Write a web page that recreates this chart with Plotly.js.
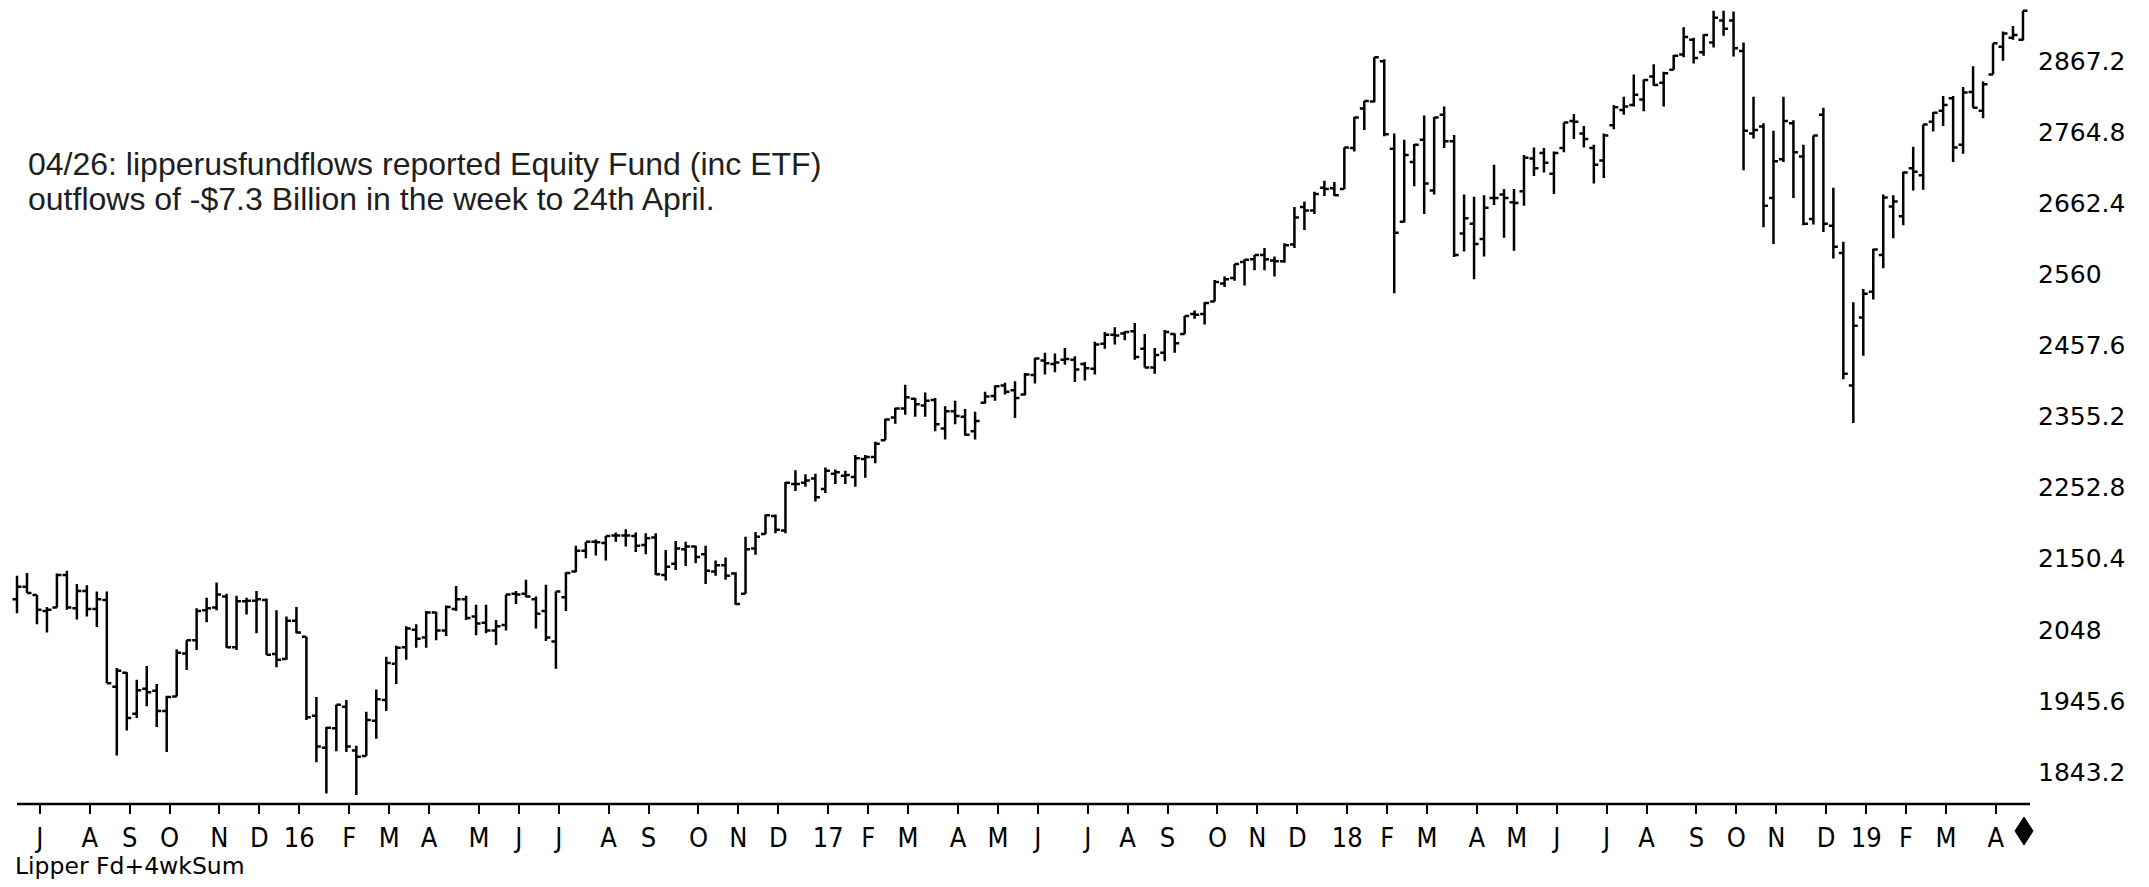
<!DOCTYPE html>
<html>
<head>
<meta charset="utf-8">
<script src="https://cdn.plot.ly/plotly-3.0.1.min.js"></script>
<style>
  html, body { margin: 0; padding: 0; background: #ffffff; }
  #chart { width: 2149px; height: 887px; }
</style>
</head>
<body>
<div id="chart"></div>
<script>
// ---- Data: weekly OHLC bars, week ending Friday, first bar = week ending 2015-06-19 ----
const FIRST_WEEK_END = '2015-06-19';

const open = [
2092,2110,2098,2075,2080,2127,2079,2104,2078,2091,
1966,1986,1927,1963,1960,1931,1952,2014,2033,2076,
2080,2096,2023,2089,2090,2091,2013,2006,2061,2038,
1924,1878,1906,1937,1874,1866,1917,1947,1999,2023,
2048,2037,2073,2047,2078,2092,2067,2058,2047,2055,
2100,2100,2092,2075,2031,2095,2132,2162,2175,2173,
2184,2184,2183,2170,2181,2127,2143,2164,2168,2157,
2132,2141,2129,2100,2165,2186,2212,2191,2258,2260,
2266,2251,2273,2270,2268,2294,2297,2321,2354,2367,
2381,2371,2379,2338,2363,2355,2334,2375,2385,2400,
2393,2387,2415,2436,2431,2437,2437,2431,2424,2460,
2473,2475,2478,2453,2426,2447,2474,2474,2503,2503,
2521,2547,2555,2578,2582,2588,2580,2579,2603,2657,
2652,2685,2684,2683,2742,2799,2809,2867,2741,2636,
2722,2754,2681,2790,2752,2619,2633,2611,2670,2675,
2664,2680,2727,2735,2705,2742,2781,2763,2742,2724,
2775,2797,2804,2812,2845,2836,2855,2877,2898,2880,
2894,2926,2926,2882,2763,2773,2670,2726,2778,2730,
2640,2790,2630,2591,2400,2498,2535,2588,2658,2644,
2713,2703,2780,2796,2814,2747,2823,2796,2848,2888,
2901,2898
];
const high = [
2126,2130,2098,2081,2129,2133,2114,2112,2103,2103,
1993,1987,1976,1996,1970,1953,2020,2033,2079,2094,
2116,2100,2097,2094,2104,2093,2076,2067,2081,2038,
1951,1908,1940,1947,1881,1930,1962,2009,2025,2053,
2056,2075,2074,2083,2111,2097,2084,2084,2062,2099,
2104,2120,2096,2113,2103,2131,2169,2175,2178,2183,
2188,2193,2188,2187,2187,2163,2176,2175,2169,2169,
2148,2152,2131,2182,2189,2214,2214,2261,2278,2272,
2273,2282,2279,2277,2300,2300,2319,2352,2368,2401,
2382,2390,2382,2370,2378,2366,2362,2391,2400,2404,
2406,2418,2440,2447,2446,2454,2442,2434,2463,2477,
2484,2478,2490,2474,2454,2480,2475,2500,2508,2520,
2552,2557,2575,2582,2588,2598,2586,2605,2657,2665,
2679,2695,2693,2743,2787,2810,2873,2870,2763,2754,
2748,2789,2787,2802,2761,2675,2672,2674,2718,2683,
2683,2732,2743,2742,2737,2779,2791,2774,2747,2763,
2804,2816,2848,2841,2863,2852,2876,2916,2901,2906,
2940,2940,2939,2894,2816,2778,2767,2816,2782,2747,
2760,2800,2685,2607,2520,2539,2597,2675,2674,2708,
2744,2776,2794,2817,2817,2830,2860,2838,2893,2910,
2918,2940
];
const low = [
2072,2101,2056,2044,2080,2077,2063,2067,2052,1971,
1867,1903,1921,1938,1908,1872,1952,1990,2019,2059,
2076,2022,2019,2070,2043,2012,1994,2005,2043,1918,
1857,1812,1873,1872,1810,1866,1891,1931,1970,2005,
2022,2022,2033,2039,2075,2062,2040,2043,2026,2047,
2085,2095,2050,2032,1992,2075,2131,2151,2155,2148,
2175,2168,2160,2157,2127,2119,2134,2140,2144,2114,
2126,2120,2084,2100,2156,2186,2187,2187,2248,2254,
2233,2245,2258,2258,2254,2267,2288,2321,2345,2358,
2355,2355,2334,2322,2344,2328,2322,2374,2378,2387,
2353,2386,2403,2416,2419,2430,2405,2407,2416,2453,
2459,2465,2437,2426,2417,2435,2447,2474,2496,2488,
2521,2542,2551,2544,2566,2566,2557,2577,2598,2624,
2647,2673,2673,2683,2737,2768,2808,2759,2533,2635,
2687,2647,2675,2742,2585,2593,2553,2586,2660,2613,
2594,2659,2702,2707,2676,2736,2755,2743,2691,2699,
2769,2790,2802,2795,2832,2802,2855,2873,2864,2875,
2887,2904,2874,2710,2756,2628,2604,2722,2670,2631,
2632,2621,2583,2409,2346,2443,2524,2569,2612,2631,
2681,2682,2766,2774,2722,2734,2800,2785,2848,2868,
2898,2897
];
const close = [
2110,2101,2077,2077,2127,2080,2104,2078,2092,1971,
1989,1921,1961,1958,1931,1951,2015,2033,2075,2079,
2099,2023,2089,2090,2092,2012,2005,2061,2044,1922,
1880,1907,1940,1880,1865,1918,1948,2000,2022,2050,
2035,2073,2047,2081,2092,2065,2057,2047,2053,2099,
2099,2096,2071,2037,2103,2130,2162,2175,2174,2183,
2184,2184,2169,2180,2128,2139,2165,2168,2153,2133,
2141,2126,2085,2164,2182,2213,2192,2260,2258,2263,
2239,2277,2275,2271,2295,2297,2316,2351,2367,2383,
2373,2378,2344,2363,2356,2329,2349,2384,2399,2391,
2382,2416,2439,2432,2433,2438,2423,2425,2459,2473,
2472,2477,2441,2426,2444,2477,2461,2500,2502,2519,
2549,2553,2575,2581,2588,2582,2579,2602,2642,2652,
2676,2683,2674,2743,2786,2810,2873,2762,2620,2732,
2747,2691,2786,2752,2588,2641,2604,2656,2670,2670,
2663,2728,2713,2721,2735,2779,2780,2755,2718,2760,
2801,2802,2819,2840,2833,2850,2875,2902,2872,2905,
2930,2914,2886,2767,2768,2659,2723,2781,2736,2633,
2760,2633,2600,2417,2486,2532,2596,2671,2665,2707,
2708,2776,2793,2804,2743,2822,2800,2834,2893,2907,
2905,2940
];

// Tick labels
const MONTH_LETTERS = ['J','F','M','A','M','J','J','A','S','O','N','D'];
const Y_TICK_VALUES = [1843.2,1945.6,2048,2150.4,2252.8,2355.2,2457.6,2560,2662.4,2764.8,2867.2];
const Y_TICK_LABELS = ['1843.2','1945.6','2048','2150.4','2252.8','2355.2','2457.6','2560','2662.4','2764.8','2867.2'];

const NOTE_LINE_1 = '04/26: lipperusfundflows reported Equity Fund (inc ETF)';
const NOTE_LINE_2 = 'outflows of -$7.3 Billion in the week to 24th April.';
const FOOTER_LABEL = 'Lipper Fd+4wkSum';

// ---- Derived categories (weekly dates) ----
const DAY = 864e5;
const t0 = Date.parse(FIRST_WEEK_END + 'T00:00:00Z');
const weekEnd = open.map((_, i) => new Date(t0 + i * 7 * DAY).toISOString().slice(0, 10));

// month ticks at the first bar of each new month
const tickvals = [], ticktext = [];
for (let i = 1; i < weekEnd.length; i++) {
  const m = +weekEnd[i].slice(5, 7) - 1, pm = +weekEnd[i - 1].slice(5, 7) - 1;
  if (m !== pm) {
    tickvals.push(new Date(Date.parse(weekEnd[i] + 'T00:00:00Z') + 2 * DAY).toISOString().slice(0, 10));
    ticktext.push(m === 0 ? weekEnd[i].slice(2, 4) : MONTH_LETTERS[m]);
  }
}

// ---- Layout geometry (pixels) ----
const W = 2149, H = 887;
const L = 5, R = 2030, PLOT_BOTTOM = 804;
const FIRST_BAR_PX = 17, BAR_STEP_PX = 9.98;
const pxPerDay = BAR_STEP_PX / 7;
const tFirst = Date.parse(weekEnd[0] + 'T00:00:00Z');
const xr0 = tFirst - (FIRST_BAR_PX - L) / pxPerDay * DAY;
const xr1 = xr0 + (R - L) / pxPerDay * DAY;
const iso = t => new Date(t).toISOString().replace('T', ' ').slice(0, 19);

const px2paperX = p => (p - L) / (R - L);
const px2paperY = p => (PLOT_BOTTOM - p) / PLOT_BOTTOM;

function hasFont(name) {
  const c = document.createElement('canvas').getContext('2d');
  const s = 'abcdefghijklmnopqrstuvwxyzJASOND0123456789';
  c.font = '40px monospace';
  const a = c.measureText(s).width;
  c.font = "40px '" + name + "', monospace";
  return Math.abs(c.measureText(s).width - a) > 0.5;
}
const narrowOK = hasFont('Liberation Sans Narrow');
const xTickFont = narrowOK
  ? { family: 'Liberation Sans Narrow', size: 30, color: '#000' }
  : { family: 'DejaVu Sans Condensed, DejaVu Sans', size: 27, color: '#000' };

const trace = {
  type: 'ohlc',
  x: weekEnd,
  open: open, high: high, low: low, close: close,
  increasing: { line: { color: '#000', width: 2.5 } },
  decreasing: { line: { color: '#000', width: 2.5 } },
  tickwidth: 0.45,
  hoverinfo: 'skip',
  showlegend: false
};

const dx = 9, dy = 14;
const cx = 2024, cy = 831;
const diamondPath = 'M ' + px2paperX(cx) + ',' + px2paperY(cy - dy) +
  ' L ' + px2paperX(cx + dx) + ',' + px2paperY(cy) +
  ' L ' + px2paperX(cx) + ',' + px2paperY(cy + dy) +
  ' L ' + px2paperX(cx - dx) + ',' + px2paperY(cy) + ' Z';

const layout = {
  width: W, height: H,
  margin: { l: L, r: W - R, t: 0, b: H - PLOT_BOTTOM, pad: 0 },
  paper_bgcolor: '#ffffff', plot_bgcolor: '#ffffff',
  showlegend: false,
  xaxis: {
    type: 'date',
    range: [iso(xr0), iso(xr1)],
    rangeslider: { visible: false },
    tickmode: 'array', tickvals: tickvals, ticktext: ticktext,
    ticks: 'outside', ticklen: 9, tickwidth: 2, tickcolor: '#000',
    showline: false, showgrid: false, zeroline: false,
    tickfont: xTickFont,
    ticklabelstandoff: 1,
    fixedrange: true
  },
  yaxis: {
    side: 'right',
    range: [1797, 2955.4],
    tickmode: 'array', tickvals: Y_TICK_VALUES, ticktext: Y_TICK_LABELS,
    ticks: '', showline: false, showgrid: false, zeroline: false,
    tickfont: { family: 'DejaVu Sans', size: 25, color: '#000' },
    ticklabelstandoff: 7,
    fixedrange: true
  },
  shapes: [
    { type: 'line', xref: 'paper', yref: 'paper',
      x0: px2paperX(17), x1: 1, y0: 0, y1: 0,
      line: { color: '#000', width: 2.5 } },
    { type: 'path', xref: 'paper', yref: 'paper', path: diamondPath,
      fillcolor: '#000', line: { color: '#000', width: 1 } }
  ],
  annotations: [
    { text: NOTE_LINE_1, xref: 'paper', yref: 'paper', x: px2paperX(26), y: px2paperY(164),
      xanchor: 'left', yanchor: 'middle', showarrow: false,
      font: { family: 'Liberation Sans, Arial', size: 32, color: '#1e1e1e' } },
    { text: NOTE_LINE_2, xref: 'paper', yref: 'paper', x: px2paperX(26), y: px2paperY(199),
      xanchor: 'left', yanchor: 'middle', showarrow: false,
      font: { family: 'Liberation Sans, Arial', size: 32, color: '#1e1e1e' } },
    { text: FOOTER_LABEL, xref: 'paper', yref: 'paper', x: px2paperX(13), y: px2paperY(866),
      xanchor: 'left', yanchor: 'middle', showarrow: false,
      font: { family: 'DejaVu Sans', size: 23.5, color: '#000' } }
  ]
};

Plotly.newPlot('chart', [trace], layout, { staticPlot: true, displayModeBar: false });
</script>
</body>
</html>
